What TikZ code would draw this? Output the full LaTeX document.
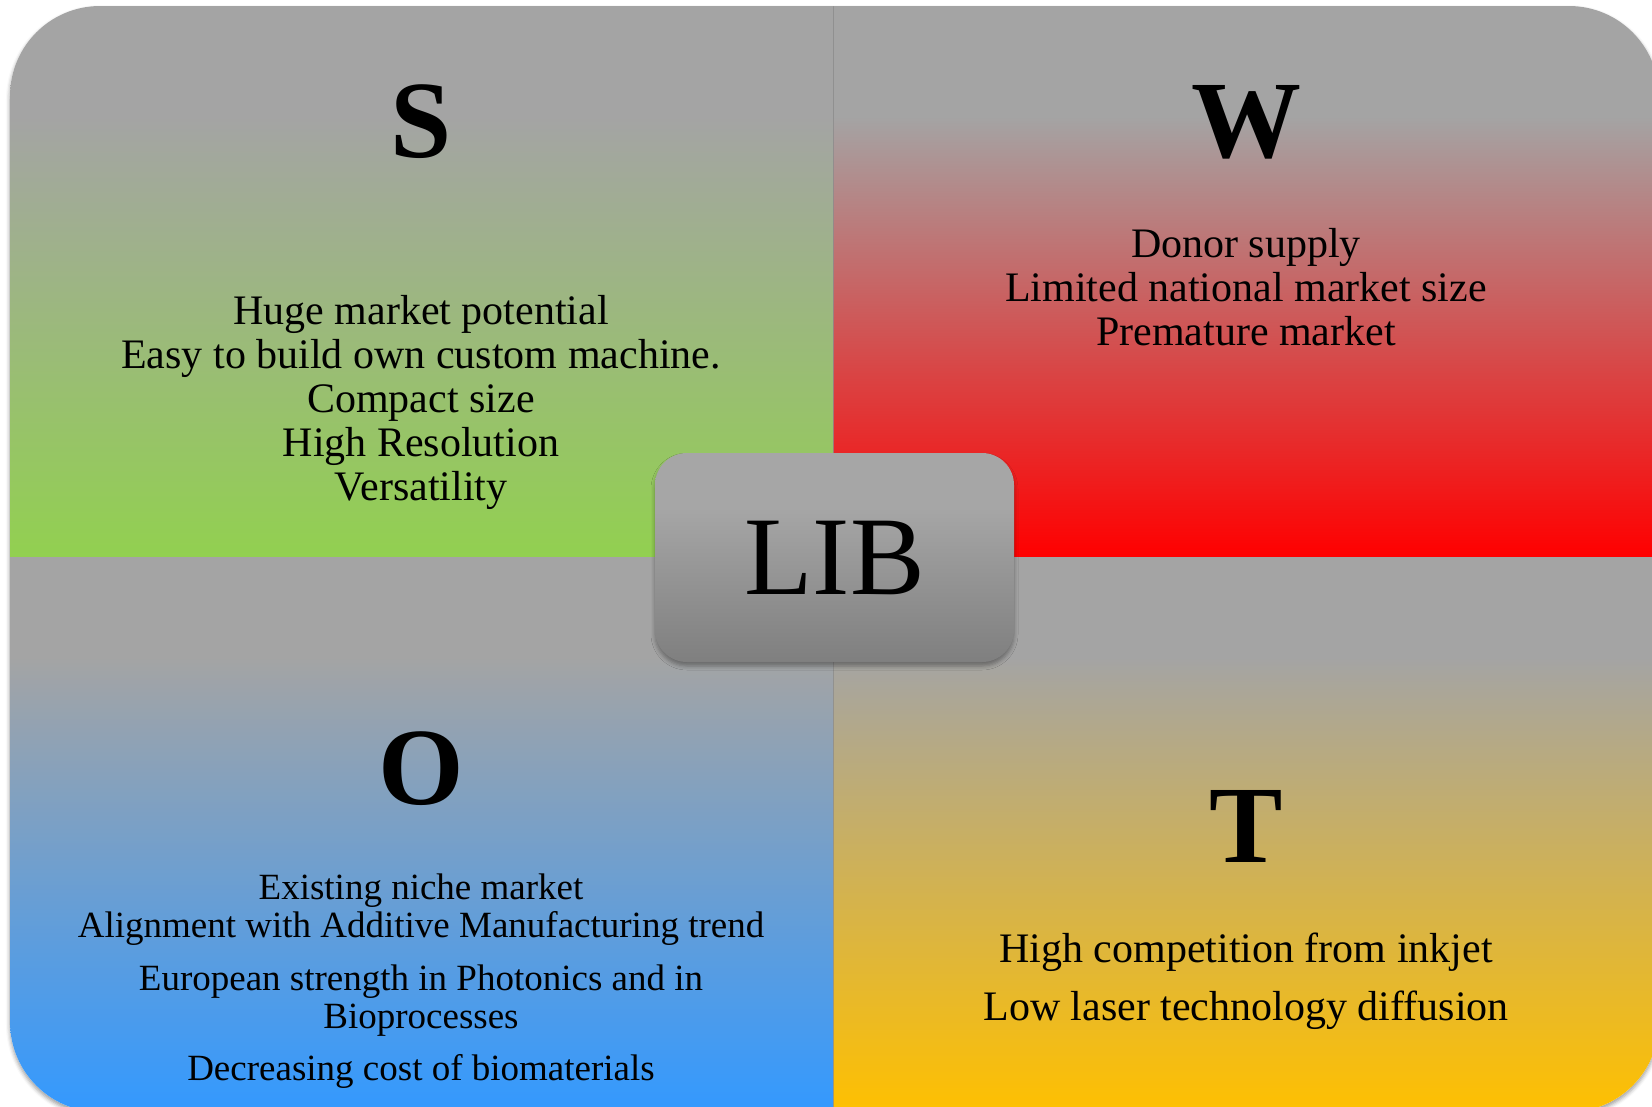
\documentclass[tikz,border=0pt]{standalone}
\usepackage{fontspec}
\setmainfont{Liberation Serif}
\usetikzlibrary{shadows.blur}

\definecolor{panelgray}{RGB}{164,164,164}
\definecolor{sgreen}{RGB}{146,208,80}
\definecolor{wred}{RGB}{255,0,0}
\definecolor{oblue}{RGB}{51,153,255}
\definecolor{tyellow}{RGB}{255,192,0}
\definecolor{boxlight}{RGB}{166,166,166}
\definecolor{boxdark}{RGB}{127,127,127}
\definecolor{divider}{RGB}{140,140,140}

% vertical fades: the path's height maps onto 25bp..75bp
\pgfdeclareverticalshading{sfade}{100bp}{color(0bp)=(sgreen); color(25bp)=(sgreen); color(65bp)=(panelgray); color(100bp)=(panelgray)}
\pgfdeclareverticalshading{wfade}{100bp}{color(0bp)=(wred); color(25bp)=(wred); color(65bp)=(panelgray); color(100bp)=(panelgray)}
\pgfdeclareverticalshading{ofade}{100bp}{color(0bp)=(oblue); color(25bp)=(oblue); color(66bp)=(panelgray); color(100bp)=(panelgray)}
\pgfdeclareverticalshading{tfade}{100bp}{color(0bp)=(tyellow); color(25bp)=(tyellow); color(66bp)=(panelgray); color(100bp)=(panelgray)}
\pgfdeclareverticalshading{boxfade}{100bp}{color(0bp)=(boxdark); color(25bp)=(boxdark); color(62bp)=(boxlight); color(100bp)=(boxlight)}

\tikzset{
  letter/.style={font=\fontsize{110}{110}\selectfont\bfseries, anchor=base, inner sep=0pt},
  % multi-line blocks are placed by the baseline of their last line
  bodytext/.style={font=\fontsize{42}{44}\selectfont, align=center, anchor=base, inner sep=0pt},
  smalltext/.style={font=\fontsize{37}{38.5}\selectfont, align=center, anchor=base, inner sep=0pt},
  libbox/.style={shading=boxfade, rounded corners=32pt, minimum width=359pt, minimum height=209pt,
    inner sep=0pt, font=\fontsize{112}{112}\selectfont,
    blur shadow={shadow xshift=0pt, shadow yshift=-4pt, shadow blur radius=4pt, shadow opacity=35}},
  dividerline/.style={draw=divider, line width=1.6pt, opacity=0.8},
}

\begin{document}
\begin{tikzpicture}[x=1pt, y=-1pt]
  \useasboundingbox (0,0) rectangle (1652,1106);

  % soft shadow of the rounded board
  \path[fill=white, rounded corners=90pt,
        blur shadow={shadow xshift=0pt, shadow yshift=-3pt, shadow blur radius=4pt, shadow opacity=40}]
        (10,6) rectangle (1659,1112);

  % the four quadrants, clipped to the rounded board
  \begin{scope}
    \clip[rounded corners=90pt] (10,6) rectangle (1659,1112);
    \shade[shading=sfade] (10,6) rectangle (833.5,557);
    \shade[shading=wfade] (833.5,6) rectangle (1659,557);
    \shade[shading=ofade] (10,557) rectangle (833.5,1112);
    \shade[shading=tfade] (833.5,557) rectangle (1659,1112);
    \coordinate (divtop) at (833.5,6);
    \coordinate (divbot) at (833.5,1112);
    \draw[dividerline] (divtop) -- (divbot);
  \end{scope}

  % quadrant headings
  \node[letter] (s) at (421,157) {S};
  \node[letter] (w) at (1246,157) {W};
  \node[letter] (o) at (421,804) {O};
  \node[letter] (t) at (1246,862) {T};

  % quadrant contents
  \node[bodytext] (stext) at (421,500) {Huge market potential\\Easy to build own custom machine.\\Compact size\\High Resolution\\Versatility};
  \node[bodytext] (wtext) at (1246,345) {Donor supply\\Limited national market size\\Premature market};
  \node[smalltext] (otext) at (421,1080) {Existing niche market\\Alignment with Additive Manufacturing trend\\[14pt]European strength in Photonics and in\\Bioprocesses\\[13pt]Decreasing cost of biomaterials};
  \node[bodytext] (ttext) at (1246,1020) {High competition from inkjet\\[14pt]Low laser technology diffusion};

  % central label
  \node[libbox] (lib) at (834.5,557.5) {LIB};
\end{tikzpicture}
\end{document}
